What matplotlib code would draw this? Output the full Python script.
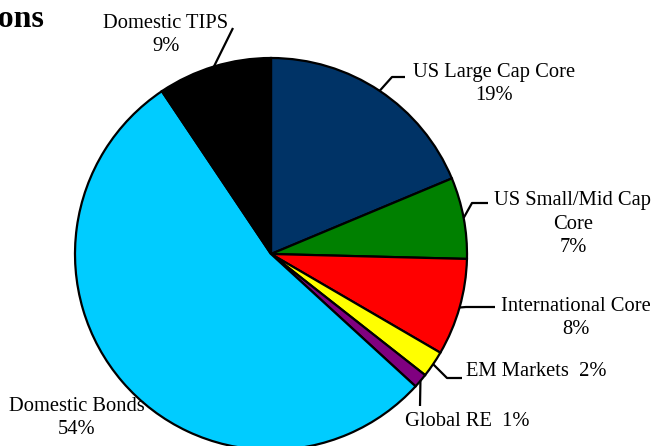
import numpy as np
import matplotlib.pyplot as plt

plt.rcParams['font.family'] = ['Liberation Serif', 'DejaVu Serif']

# datos del grafico (porcentajes)
categorias = ['US Large Cap Core', 'US Small/Mid Cap\nCore', 'International Core',
              'EM Markets', 'Global RE', 'Domestic Bonds', 'Domestic TIPS']
valores = [18.7, 6.7, 8.0, 2.2, 1.2, 53.8, 9.4]
colores = ['#003366', '#008000', '#FF0000', '#FFFF00', '#800080', '#00CCFF', '#000000']
titulo = 'Target Allocations'

# geometria en pixeles: centro y radio del pastel
W, H = 657, 446
CX, CY, R = 271, 254, 196


def px(x, y):
    # convierte pixeles de la imagen a coordenadas del eje
    return (x - CX) / R, (CY - y) / R


fig = plt.figure(figsize=(W / 100, H / 100), dpi=100)
ax = fig.add_axes([0, 0, 1, 1])

wedges, _ = ax.pie(valores, colors=colores, startangle=90, counterclock=False,
                   radius=1, center=(0, 0),
                   wedgeprops=dict(edgecolor='black', linewidth=1.6))

ax.set_xlim(px(0, 0)[0], px(W, 0)[0])
ax.set_ylim(px(0, H)[1], px(0, 0)[1])
ax.set_aspect('auto')
ax.axis('off')

# posicion del texto (pixeles), alineacion, y puntos de la linea guia despues del ancla
etiquetas = [
    dict(xy=(494, 84), ha='center', una_linea=False, guia=[(392, 77), (405, 77)]),
    dict(xy=(573, 224), ha='center', una_linea=False, guia=[(472, 203), (488, 203)]),
    dict(xy=(576, 318), ha='center', una_linea=False, guia=[(466, 307), (495, 307)]),
    dict(xy=(466, 372), ha='left', una_linea=True, guia=[(447, 378), (462, 378)]),
    dict(xy=(405, 422), ha='left', una_linea=True, guia=[(420, 406)]),
    dict(xy=(77, 418), ha='center', una_linea=False, guia=None),
    dict(xy=(166, 35), ha='center', una_linea=False, guia=[(233, 28)]),
]

for w, nombre, v, lab in zip(wedges, categorias, valores, etiquetas):
    if lab['una_linea']:
        texto = f"{nombre}  {v:.0f}%"
    else:
        texto = f"{nombre}\n{v:.0f}%"
    tx, ty = px(*lab['xy'])
    ax.text(tx, ty, texto, ha=lab['ha'], va='center', fontsize=14.8,
            linespacing=1.32, color='black', zorder=5)
    if lab['guia']:
        ang = np.deg2rad((w.theta1 + w.theta2) / 2)
        xs = [np.cos(ang)] + [px(*p)[0] for p in lab['guia']]
        ys = [np.sin(ang)] + [px(*p)[1] for p in lab['guia']]
        ax.plot(xs, ys, color='black', lw=1.6, solid_capstyle='butt', zorder=4)

# titulo (cortado a la izquierda como en la imagen)
fig.text(44 / W, 1 - 27 / H, titulo, ha='right', va='baseline',
         fontsize=23, fontweight='bold')

fig.savefig('out.png', dpi=100)
